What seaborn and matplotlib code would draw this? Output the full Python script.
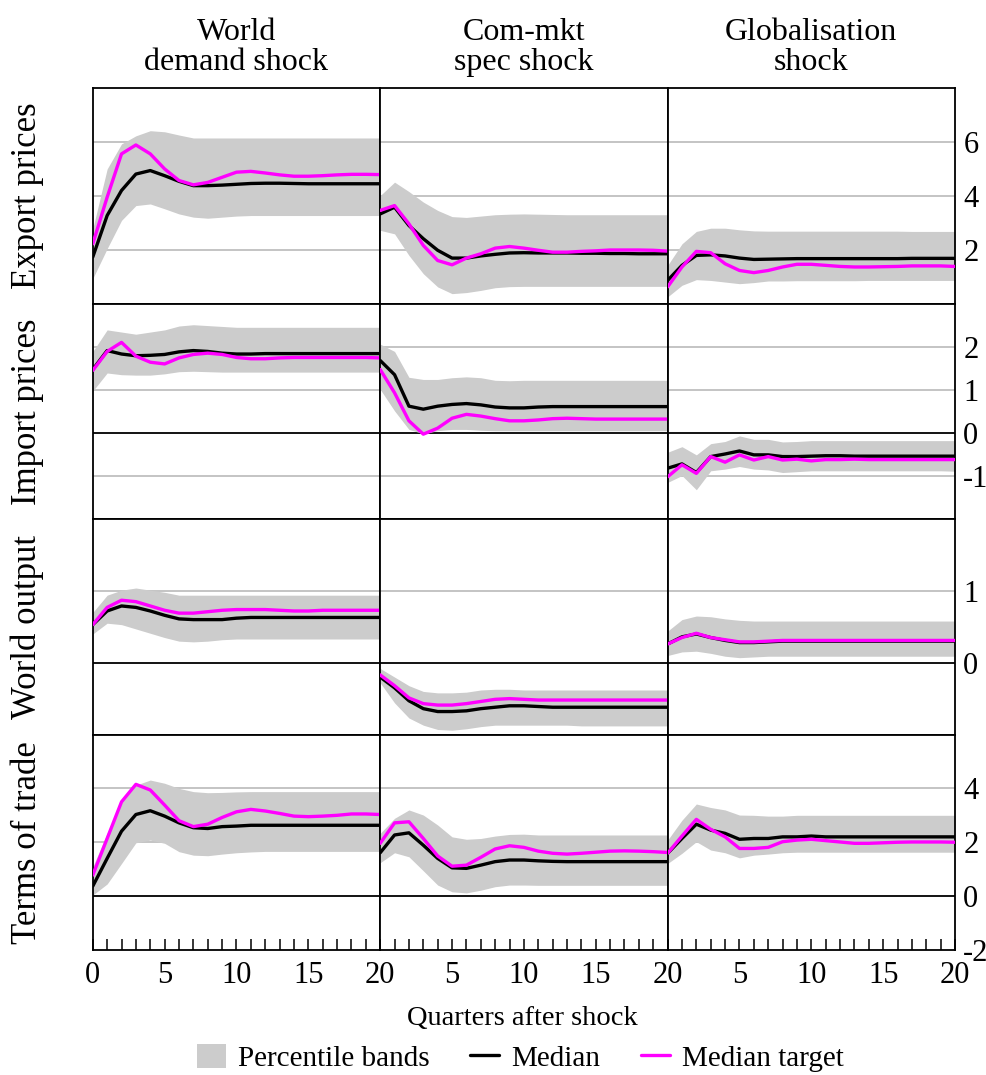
import numpy as np
import pandas as pd
import matplotlib
matplotlib.use("Agg")
import matplotlib.pyplot as plt
import seaborn as sns
from matplotlib.lines import Line2D
from matplotlib.patches import Patch

QUARTERS = list(range(21))
SHOCKS = ["World\ndemand shock", "Com-mkt\nspec shock", "Globalisation\nshock"]
VARIABLES = ["Export prices", "Import prices", "World output", "Terms of trade"]

# ---- Export prices ----
EXP_WD_MED = [1.73, 3.27, 4.20, 4.81, 4.94, 4.75, 4.54, 4.38, 4.38, 4.40, 4.43, 4.46, 4.47, 4.47, 4.46, 4.45, 4.45, 4.45, 4.45, 4.45, 4.45]
EXP_WD_TGT = [2.22, 3.95, 5.56, 5.89, 5.56, 5.00, 4.57, 4.41, 4.50, 4.69, 4.88, 4.91, 4.85, 4.78, 4.73, 4.73, 4.75, 4.78, 4.80, 4.80, 4.79]
EXP_WD_UP = [2.78, 5.00, 5.93, 6.23, 6.42, 6.38, 6.26, 6.15, 6.15, 6.15, 6.15, 6.15, 6.15, 6.15, 6.15, 6.15, 6.15, 6.15, 6.15, 6.15, 6.15]
EXP_WD_LO = [0.93, 2.04, 3.09, 3.64, 3.70, 3.52, 3.33, 3.21, 3.17, 3.21, 3.25, 3.27, 3.27, 3.27, 3.27, 3.27, 3.27, 3.27, 3.27, 3.27, 3.27]

EXP_CM_MED = [3.33, 3.58, 2.90, 2.41, 1.98, 1.69, 1.69, 1.77, 1.83, 1.88, 1.89, 1.88, 1.88, 1.88, 1.87, 1.87, 1.86, 1.86, 1.85, 1.85, 1.85]
EXP_CM_TGT = [3.46, 3.64, 2.96, 2.16, 1.60, 1.44, 1.69, 1.85, 2.06, 2.12, 2.06, 1.98, 1.91, 1.91, 1.94, 1.96, 1.99, 1.99, 1.99, 1.98, 1.95]
EXP_CM_UP = [4.01, 4.51, 4.16, 3.77, 3.46, 3.23, 3.20, 3.25, 3.30, 3.32, 3.33, 3.32, 3.31, 3.30, 3.30, 3.30, 3.30, 3.30, 3.30, 3.30, 3.30]
EXP_CM_LO = [2.72, 2.59, 1.79, 1.11, 0.62, 0.37, 0.41, 0.49, 0.59, 0.63, 0.64, 0.64, 0.64, 0.64, 0.64, 0.64, 0.64, 0.64, 0.64, 0.64, 0.64]

EXP_GL_MED = [0.86, 1.42, 1.79, 1.81, 1.77, 1.69, 1.64, 1.65, 1.66, 1.67, 1.67, 1.67, 1.67, 1.67, 1.67, 1.67, 1.67, 1.68, 1.68, 1.68, 1.68]
EXP_GL_TGT = [0.62, 1.36, 1.94, 1.89, 1.48, 1.23, 1.15, 1.23, 1.36, 1.46, 1.46, 1.42, 1.38, 1.36, 1.36, 1.37, 1.38, 1.40, 1.40, 1.40, 1.38]
EXP_GL_UP = [1.42, 2.22, 2.68, 2.80, 2.80, 2.74, 2.70, 2.69, 2.69, 2.69, 2.69, 2.69, 2.69, 2.69, 2.69, 2.69, 2.69, 2.68, 2.68, 2.68, 2.68]
EXP_GL_LO = [0.25, 0.68, 0.89, 0.86, 0.80, 0.74, 0.78, 0.84, 0.84, 0.85, 0.85, 0.85, 0.85, 0.85, 0.86, 0.86, 0.86, 0.86, 0.86, 0.86, 0.86]

# ---- Import prices ----
IMP_WD_MED = [1.47, 1.91, 1.83, 1.79, 1.80, 1.82, 1.88, 1.91, 1.89, 1.85, 1.83, 1.83, 1.84, 1.84, 1.84, 1.84, 1.84, 1.84, 1.84, 1.84, 1.84]
IMP_WD_TGT = [1.45, 1.89, 2.10, 1.78, 1.64, 1.60, 1.74, 1.82, 1.85, 1.82, 1.75, 1.72, 1.72, 1.74, 1.75, 1.75, 1.75, 1.75, 1.75, 1.75, 1.74]
IMP_WD_UP = [1.89, 2.39, 2.34, 2.29, 2.34, 2.39, 2.48, 2.51, 2.49, 2.47, 2.45, 2.45, 2.45, 2.45, 2.45, 2.45, 2.45, 2.45, 2.45, 2.45, 2.45]
IMP_WD_LO = [0.97, 1.39, 1.35, 1.34, 1.34, 1.37, 1.42, 1.43, 1.42, 1.41, 1.41, 1.41, 1.41, 1.41, 1.41, 1.41, 1.41, 1.41, 1.41, 1.41, 1.41]

IMP_CM_MED = [1.68, 1.35, 0.62, 0.55, 0.62, 0.66, 0.68, 0.65, 0.60, 0.58, 0.58, 0.60, 0.61, 0.61, 0.61, 0.61, 0.61, 0.61, 0.61, 0.61, 0.61]
IMP_CM_TGT = [1.47, 0.93, 0.28, -0.03, 0.11, 0.34, 0.43, 0.39, 0.33, 0.28, 0.28, 0.30, 0.33, 0.34, 0.33, 0.32, 0.32, 0.32, 0.32, 0.32, 0.32]
IMP_CM_UP = [2.06, 1.89, 1.29, 1.24, 1.24, 1.28, 1.30, 1.28, 1.22, 1.21, 1.22, 1.22, 1.22, 1.22, 1.22, 1.22, 1.22, 1.22, 1.22, 1.22, 1.22]
IMP_CM_LO = [1.01, 0.51, 0.08, -0.02, 0.05, 0.08, 0.08, 0.06, 0.05, 0.05, 0.05, 0.05, 0.05, 0.05, 0.05, 0.05, 0.05, 0.05, 0.05, 0.05, 0.05]

IMP_GL_MED = [-0.82, -0.72, -0.92, -0.55, -0.49, -0.42, -0.51, -0.51, -0.55, -0.55, -0.54, -0.53, -0.53, -0.54, -0.54, -0.54, -0.54, -0.54, -0.54, -0.54, -0.54]
IMP_GL_TGT = [-1.02, -0.74, -0.94, -0.55, -0.68, -0.51, -0.63, -0.55, -0.63, -0.61, -0.65, -0.62, -0.62, -0.61, -0.62, -0.62, -0.62, -0.62, -0.62, -0.62, -0.62]
IMP_GL_UP = [-0.45, -0.32, -0.51, -0.25, -0.20, -0.07, -0.15, -0.15, -0.21, -0.20, -0.18, -0.18, -0.18, -0.18, -0.18, -0.18, -0.18, -0.18, -0.18, -0.18, -0.18]
IMP_GL_LO = [-1.15, -0.99, -1.32, -0.88, -0.84, -0.78, -0.84, -0.86, -0.92, -0.90, -0.88, -0.88, -0.88, -0.88, -0.88, -0.88, -0.88, -0.88, -0.88, -0.88, -0.89]

# ---- World output ----
OUT_WD_MED = [0.53, 0.72, 0.79, 0.77, 0.72, 0.66, 0.61, 0.60, 0.60, 0.60, 0.62, 0.63, 0.63, 0.63, 0.63, 0.63, 0.63, 0.63, 0.63, 0.63, 0.63]
OUT_WD_TGT = [0.53, 0.77, 0.87, 0.85, 0.79, 0.73, 0.69, 0.69, 0.71, 0.73, 0.74, 0.74, 0.74, 0.73, 0.72, 0.72, 0.73, 0.73, 0.73, 0.73, 0.73]
OUT_WD_UP = [0.70, 0.94, 1.01, 1.04, 1.01, 0.98, 0.94, 0.94, 0.94, 0.94, 0.94, 0.94, 0.94, 0.94, 0.94, 0.94, 0.94, 0.94, 0.94, 0.94, 0.94]
OUT_WD_LO = [0.40, 0.55, 0.53, 0.47, 0.41, 0.35, 0.30, 0.29, 0.30, 0.32, 0.33, 0.33, 0.33, 0.33, 0.33, 0.33, 0.33, 0.33, 0.33, 0.33, 0.33]

OUT_CM_MED = [-0.20, -0.35, -0.53, -0.64, -0.68, -0.68, -0.67, -0.64, -0.62, -0.60, -0.60, -0.61, -0.62, -0.62, -0.62, -0.62, -0.62, -0.62, -0.62, -0.62, -0.62]
OUT_CM_TGT = [-0.17, -0.32, -0.49, -0.57, -0.59, -0.59, -0.57, -0.54, -0.51, -0.50, -0.51, -0.52, -0.52, -0.52, -0.52, -0.52, -0.52, -0.52, -0.52, -0.52, -0.52]
OUT_CM_UP = [-0.08, -0.20, -0.32, -0.40, -0.42, -0.42, -0.41, -0.38, -0.37, -0.37, -0.38, -0.38, -0.38, -0.38, -0.38, -0.38, -0.38, -0.38, -0.38, -0.38, -0.38]
OUT_CM_LO = [-0.28, -0.56, -0.77, -0.87, -0.93, -0.94, -0.92, -0.89, -0.87, -0.87, -0.87, -0.87, -0.87, -0.87, -0.88, -0.88, -0.88, -0.88, -0.88, -0.88, -0.88]

OUT_GL_MED = [0.26, 0.36, 0.40, 0.35, 0.31, 0.28, 0.28, 0.29, 0.30, 0.30, 0.30, 0.30, 0.30, 0.30, 0.30, 0.30, 0.30, 0.30, 0.30, 0.30, 0.30]
OUT_GL_TGT = [0.26, 0.35, 0.41, 0.35, 0.32, 0.29, 0.29, 0.30, 0.31, 0.31, 0.31, 0.31, 0.31, 0.31, 0.31, 0.31, 0.31, 0.31, 0.31, 0.31, 0.31]
OUT_GL_UP = [0.44, 0.60, 0.65, 0.64, 0.61, 0.59, 0.58, 0.58, 0.58, 0.58, 0.58, 0.58, 0.58, 0.58, 0.58, 0.58, 0.58, 0.58, 0.58, 0.58, 0.58]
OUT_GL_LO = [0.10, 0.15, 0.16, 0.13, 0.09, 0.07, 0.08, 0.09, 0.09, 0.09, 0.09, 0.09, 0.09, 0.09, 0.09, 0.09, 0.09, 0.09, 0.09, 0.09, 0.09]

# ---- Terms of trade ----
TOT_WD_MED = [0.37, 1.40, 2.41, 3.03, 3.17, 2.97, 2.72, 2.54, 2.51, 2.58, 2.60, 2.63, 2.63, 2.63, 2.63, 2.63, 2.63, 2.63, 2.63, 2.63, 2.63]
TOT_WD_TGT = [0.78, 2.14, 3.50, 4.15, 3.94, 3.38, 2.80, 2.58, 2.67, 2.92, 3.13, 3.22, 3.16, 3.07, 2.97, 2.95, 2.97, 3.00, 3.05, 3.05, 3.03]
TOT_WD_UP = [1.09, 2.33, 3.50, 4.12, 4.31, 4.19, 4.00, 3.88, 3.84, 3.85, 3.87, 3.88, 3.88, 3.88, 3.88, 3.88, 3.88, 3.88, 3.88, 3.88, 3.88]
TOT_WD_LO = [0.04, 0.45, 1.21, 1.98, 2.08, 1.96, 1.65, 1.52, 1.50, 1.56, 1.61, 1.64, 1.66, 1.66, 1.66, 1.66, 1.66, 1.66, 1.66, 1.66, 1.66]

TOT_CM_MED = [1.61, 2.27, 2.35, 1.89, 1.40, 1.05, 1.03, 1.15, 1.28, 1.34, 1.34, 1.31, 1.29, 1.28, 1.28, 1.28, 1.28, 1.28, 1.28, 1.28, 1.28]
TOT_CM_TGT = [1.96, 2.72, 2.76, 2.14, 1.49, 1.11, 1.15, 1.44, 1.75, 1.87, 1.81, 1.67, 1.59, 1.56, 1.59, 1.63, 1.67, 1.68, 1.67, 1.65, 1.62]
TOT_CM_UP = [2.33, 2.89, 3.20, 3.01, 2.64, 2.20, 2.11, 2.14, 2.23, 2.29, 2.30, 2.27, 2.27, 2.27, 2.27, 2.27, 2.27, 2.27, 2.27, 2.27, 2.27]
TOT_CM_LO = [1.24, 1.61, 1.46, 0.94, 0.41, 0.16, 0.12, 0.22, 0.35, 0.41, 0.41, 0.40, 0.40, 0.40, 0.40, 0.40, 0.40, 0.40, 0.40, 0.40, 0.40]

TOT_GL_MED = [1.59, 2.14, 2.67, 2.45, 2.33, 2.11, 2.14, 2.14, 2.20, 2.20, 2.23, 2.20, 2.20, 2.20, 2.20, 2.20, 2.20, 2.20, 2.20, 2.20, 2.20]
TOT_GL_TGT = [1.59, 2.23, 2.85, 2.48, 2.20, 1.77, 1.77, 1.81, 2.02, 2.08, 2.11, 2.06, 2.01, 1.96, 1.96, 1.98, 2.00, 2.01, 2.01, 2.01, 2.00]
TOT_GL_UP = [2.08, 2.82, 3.42, 3.29, 3.20, 3.01, 3.00, 2.97, 2.97, 3.00, 3.00, 3.00, 3.00, 3.00, 3.00, 3.00, 3.00, 3.00, 3.00, 3.00, 3.00]
TOT_GL_LO = [1.21, 1.59, 2.02, 1.71, 1.61, 1.42, 1.52, 1.56, 1.61, 1.63, 1.63, 1.63, 1.63, 1.63, 1.63, 1.63, 1.63, 1.63, 1.63, 1.63, 1.63]

# axis ranges and ticks for each row
ROW_YLIM = [(0, 8), (-2, 3), (-1, 2), (-2, 6)]
ROW_YTICKS = [[2, 4, 6], [-1, 0, 1, 2], [0, 1], [-2, 0, 2, 4]]

PANELS = [
    [(EXP_WD_MED, EXP_WD_TGT, EXP_WD_UP, EXP_WD_LO),
     (EXP_CM_MED, EXP_CM_TGT, EXP_CM_UP, EXP_CM_LO),
     (EXP_GL_MED, EXP_GL_TGT, EXP_GL_UP, EXP_GL_LO)],
    [(IMP_WD_MED, IMP_WD_TGT, IMP_WD_UP, IMP_WD_LO),
     (IMP_CM_MED, IMP_CM_TGT, IMP_CM_UP, IMP_CM_LO),
     (IMP_GL_MED, IMP_GL_TGT, IMP_GL_UP, IMP_GL_LO)],
    [(OUT_WD_MED, OUT_WD_TGT, OUT_WD_UP, OUT_WD_LO),
     (OUT_CM_MED, OUT_CM_TGT, OUT_CM_UP, OUT_CM_LO),
     (OUT_GL_MED, OUT_GL_TGT, OUT_GL_UP, OUT_GL_LO)],
    [(TOT_WD_MED, TOT_WD_TGT, TOT_WD_UP, TOT_WD_LO),
     (TOT_CM_MED, TOT_CM_TGT, TOT_CM_UP, TOT_CM_LO),
     (TOT_GL_MED, TOT_GL_TGT, TOT_GL_UP, TOT_GL_LO)],
]

BAND_COLOR = "#cccccc"
GRID_COLOR = "#b4b4b4"
PALETTE = {"Median": "black", "Median target": "#ff00ff"}

sns.set_theme(style="white")
plt.rcParams["font.family"] = ["Liberation Serif", "DejaVu Serif"]
plt.rcParams["axes.unicode_minus"] = False
plt.rcParams["text.color"] = "black"
plt.rcParams["axes.labelcolor"] = "black"
plt.rcParams["xtick.color"] = "black"
plt.rcParams["ytick.color"] = "black"

fig, axes = plt.subplots(4, 3, figsize=(9.87, 10.75), dpi=100)
fig.subplots_adjust(left=0.094, right=0.9676, top=0.918, bottom=0.1163, wspace=0, hspace=0)

for r in range(4):
    for c in range(3):
        ax = axes[r, c]
        med, tgt, up, lo = PANELS[r][c]

        # grid lines under the band, black zero line
        for yt in ROW_YTICKS[r]:
            if yt == 0:
                ax.axhline(0, color="black", lw=1.3, zorder=1)
            elif yt != ROW_YLIM[r][0]:
                ax.axhline(yt, color=GRID_COLOR, lw=1.1, zorder=0)

        ax.fill_between(QUARTERS, lo, up, color=BAND_COLOR, lw=0, zorder=2)

        df = pd.DataFrame({
            "quarter": QUARTERS * 2,
            "value": list(med) + list(tgt),
            "series": ["Median"] * 21 + ["Median target"] * 21,
        })
        sns.lineplot(data=df, x="quarter", y="value", hue="series", palette=PALETTE,
                     linewidth=2.4, legend=False, ax=ax, zorder=3)

        ax.set_xlim(0, 20)
        ax.set_ylim(*ROW_YLIM[r])
        ax.set_xlabel("")
        ax.set_ylabel("")

        for sp in ax.spines.values():
            sp.set_visible(True)
            sp.set_color("black")
            sp.set_linewidth(1.3)

        # y ticks: labels only on the right of the last column
        ax.set_yticks(ROW_YTICKS[r])
        if c == 2:
            ax.yaxis.tick_right()
            ax.tick_params(axis="y", which="both", length=0, pad=6, labelsize=22,
                           left=False, right=True, labelleft=False, labelright=True)
        else:
            ax.tick_params(axis="y", length=0, labelleft=False, labelright=False)

        # x ticks: every quarter on the bottom row
        ax.set_xticks(QUARTERS)
        if r == 3:
            labels = [str(q) if q % 5 == 0 else "" for q in QUARTERS]
            if c > 0:
                labels[0] = ""
            ax.set_xticklabels(labels)
            ax.tick_params(axis="x", direction="in", length=8, width=1.1, color="black",
                           bottom=True, labelsize=22, pad=8)
        else:
            ax.tick_params(axis="x", length=0, labelbottom=False)

        if r == 0:
            ax.set_title(SHOCKS[c], fontsize=23, pad=13, linespacing=1.05)
        if c == 0:
            ax.set_ylabel(VARIABLES[r], fontsize=25)
            ax.yaxis.set_label_coords(-0.17, 0.5)

fig.text(0.529, 0.053, "Quarters after shock", ha="center", va="center", fontsize=20.5)

handles = [
    Patch(facecolor=BAND_COLOR, edgecolor="none"),
    Line2D([], [], color="black", lw=2.4),
    Line2D([], [], color="#ff00ff", lw=2.4),
]
fig.legend(handles, ["Percentile bands", "Median", "Median target"], loc="center",
           bbox_to_anchor=(0.527, 0.016), ncol=3, frameon=False, fontsize=21,
           handlelength=1.0, handleheight=0.9, columnspacing=1.4, handletextpad=0.4,
           borderaxespad=0, borderpad=0)

fig.savefig("out.png", dpi=100)
